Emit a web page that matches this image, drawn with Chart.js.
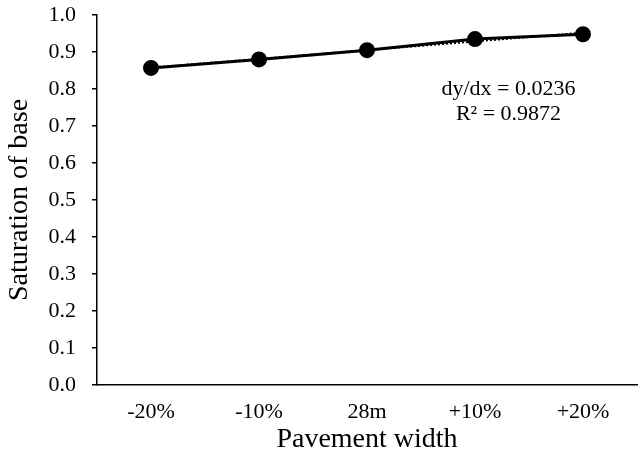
<!DOCTYPE html>
<html>
<head>
<meta charset="utf-8">
<script src="https://cdn.jsdelivr.net/npm/chart.js@4"></script>
<style>
  html, body { margin: 0; padding: 0; background: #fff; }
  #wrap { width: 640px; height: 457px; }
</style>
</head>
<body>
<div id="wrap"><canvas id="c" width="640" height="457"></canvas></div>
<script>
// Pavement width scenarios and saturation of the base layer
const categories = ['-20%', '-10%', '28m', '+10%', '+20%'];
const saturation = [0.857, 0.880, 0.905, 0.935, 0.948];
const yTicks = [0.0, 0.1, 0.2, 0.3, 0.4, 0.5, 0.6, 0.7, 0.8, 0.9, 1.0];

// Linear trendline stats shown on the chart
const trendSlope = 0.0236;
const trendR2 = 0.9872;
// least-squares intercept for x = 1..n using the stated slope
const meanY = saturation.reduce((a, b) => a + b, 0) / saturation.length;
const trendIntercept = meanY - trendSlope * (saturation.length + 1) / 2;
const trendValues = categories.map((_, i) => trendIntercept + trendSlope * (i + 1));

const FONT = "'Liberation Serif', 'Times New Roman', serif";

const trendText = {
  id: 'trendText',
  afterDatasetsDraw(chart) {
    const { ctx, scales } = chart;
    const x = scales.x.getPixelForValue(3.31);
    ctx.save();
    ctx.fillStyle = '#000';
    ctx.font = '22px ' + FONT;
    ctx.textAlign = 'center';
    ctx.textBaseline = 'middle';
    ctx.fillText('dy/dx = ' + trendSlope.toFixed(4), x, scales.y.getPixelForValue(0.80));
    ctx.fillText('R\u00B2 = ' + trendR2.toFixed(4), x, scales.y.getPixelForValue(0.733));
    ctx.restore();
  }
};

new Chart(document.getElementById('c'), {
  type: 'line',
  data: {
    labels: categories,
    datasets: [
      {
        label: 'Saturation',
        data: saturation,
        borderColor: '#000',
        backgroundColor: '#000',
        borderWidth: 3,
        pointRadius: 6.5,
        pointHoverRadius: 6.5,
        pointBackgroundColor: '#000',
        pointBorderColor: '#000',
        tension: 0,
        order: 1
      },
      {
        label: 'Linear trend',
        data: trendValues,
        borderColor: '#000',
        borderWidth: 2,
        borderDash: [2, 2],
        pointRadius: 0,
        tension: 0,
        order: 2
      }
    ]
  },
  options: {
    responsive: false,
    animation: false,
    layout: { autoPadding: false, padding: { top: 15, right: 3, left: 0, bottom: 0 } },
    plugins: {
      legend: { display: false },
      tooltip: { enabled: false }
    },
    scales: {
      x: {
        offset: true,
        grid: { display: false, drawTicks: false },
        border: { display: true, color: '#000', width: 1.5 },
        ticks: {
          color: '#000',
          font: { family: FONT, size: 22 },
          padding: 14,
          maxRotation: 0
        },
        title: {
          display: true,
          text: 'Pavement width',
          color: '#000',
          font: { family: FONT, size: 28 },
          padding: { top: 0, bottom: 1 }
        },
        afterFit(scale) {
          scale.height = 72;
          scale.paddingLeft = 0;
          scale.paddingRight = 0;
        }
      },
      y: {
        min: 0,
        max: 1,
        afterBuildTicks(scale) { scale.ticks = yTicks.map(v => ({ value: v })); },
        grid: {
          display: true,
          drawOnChartArea: false,
          drawTicks: true,
          tickLength: 5,
          color: '#000',
          lineWidth: 1.5
        },
        border: { display: true, color: '#000', width: 1.5 },
        ticks: {
          color: '#000',
          font: { family: FONT, size: 22 },
          padding: 16,
          callback: v => v.toFixed(1)
        },
        title: {
          display: true,
          text: 'Saturation of base',
          color: '#000',
          font: { family: FONT, size: 28 },
          padding: { top: 3, bottom: 0 }
        },
        afterFit(scale) {
          scale.width = 97;
          scale.paddingTop = 0;
          scale.paddingBottom = 0;
        }
      }
    }
  },
  plugins: [trendText]
});
</script>
</body>
</html>
